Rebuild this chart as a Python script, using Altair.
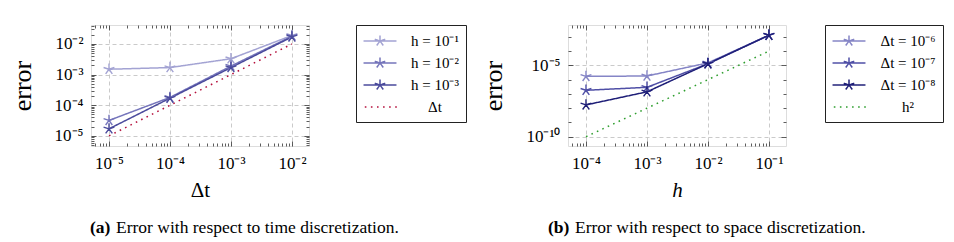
import math
import altair as alt
import pandas as pd

# ---------------- panel (a): error vs time step ----------------
dt_values = [1e-5, 1e-4, 1e-3, 1e-2]
err_h1 = [1.5e-3, 1.7e-3, 3.3e-3, 1.9e-2]
err_h2 = [3.2e-5, 1.8e-4, 1.9e-3, 1.8e-2]
err_h3 = [1.7e-5, 1.7e-4, 1.7e-3, 1.7e-2]
ref_dt = [1e-5, 1e-4, 1e-3, 1e-2]
series_a = ["h = 10⁻¹", "h = 10⁻²", "h = 10⁻³", "Δt"]
xticks_a = [1e-5, 1e-4, 1e-3, 1e-2]
xlabels_a = ["10⁻⁵", "10⁻⁴", "10⁻³", "10⁻²"]
yticks_a = [1e-5, 1e-4, 1e-3, 1e-2]
ylabels_a = ["10⁻⁵", "10⁻⁴", "10⁻³", "10⁻²"]
colors_a = ["#a3a3d3", "#7575bb", "#4a4a9c", "#b5103c"]

# ---------------- panel (b): error vs mesh size ----------------
h_values = [1e-4, 1e-3, 1e-2, 1e-1]
err_dt6 = [1.7e-6, 1.8e-6, 1.5e-5, 1.3e-3]
err_dt7 = [1.8e-7, 2.9e-7, 1.3e-5, 1.3e-3]
err_dt8 = [1.7e-8, 1.4e-7, 1.3e-5, 1.3e-3]
ref_h2 = [1e-10, 1e-8, 1e-6, 1e-4]
series_b = ["Δt = 10⁻⁶", "Δt = 10⁻⁷", "Δt = 10⁻⁸", "h²"]
xticks_b = [1e-4, 1e-3, 1e-2, 1e-1]
xlabels_b = ["10⁻⁴", "10⁻³", "10⁻²", "10⁻¹"]
yticks_b = [1e-10, 1e-5]
ylabels_b = ["10⁻¹⁰", "10⁻⁵"]
colors_b = ["#8585c6", "#4f4fa6", "#1f1f78", "#2e9e2e"]

caption_tags = ["(a)", "(b)"]
caption_texts = ["Error with respect to time discretization.",
                 "Error with respect to space discretization."]

FONT = "Liberation Serif"
W, H = 218, 121


def star_path(r, tail=0.0):
    p = ""
    if tail:
        p += f"M{-tail},0L{tail},0"
    for a in (90, 162, 234, 306, 18):
        c, s = math.cos(math.radians(a)), math.sin(math.radians(a))
        p += f"M0,0L{r * c:.3f},{-r * s:.3f}"
    return p


def dotted_path(n=6, start=-1.9, step=0.76, dot=0.2):
    return "".join(f"M{start + i * step:.3f},0L{start + i * step + dot:.3f},0" for i in range(n))


STAR = star_path(1.0)
LEG_STAR = star_path(0.69, 2.06)
LEG_DOT = dotted_path()


def label_expr(ticks, labels):
    expr = "''"
    for v, lab in reversed(list(zip(ticks, labels))):
        expr = f"abs(log(datum.value) - log({v!r})) < 0.01 ? '{lab}' : ({expr})"
    return expr


def minor_ticks(lo, hi, per_decade=True):
    out = []
    for d in range(math.floor(math.log10(lo)) - 1, math.ceil(math.log10(hi)) + 1):
        ks = range(1, 10) if per_decade else [1]
        for k in ks:
            v = k * 10.0 ** d
            if lo <= v <= hi:
                out.append(v)
    return out


def panel(xs_vals, ys_lists, names, colors, xdom, ydom, xt, xl, yt, yl,
          y_minor_all, xtitle, xtitle_italic, tag, text, cap_x, text_x,
          leg_offset, leg_label_offset):
    rows = []
    for name, ys in zip(names, ys_lists):
        for xv, yv in zip(xs_vals, ys):
            rows.append({"x": xv, "err": yv, "series": name})
    df = pd.DataFrame(rows)

    xs = alt.Scale(type="log", domain=xdom, nice=False)
    ys = alt.Scale(type="log", domain=ydom, nice=False)
    cscale = alt.Scale(domain=names, range=colors)

    x_inner = minor_ticks(*xdom)
    y_inner = minor_ticks(*ydom, per_decade=y_minor_all)
    xmaj = f"indexof({[float(v) for v in xt]}, datum.value) >= 0"
    ymaj = f"indexof({[float(v) for v in yt]}, datum.value) >= 0"

    def tick_axis(orient, offset, values, major_test):
        return alt.Axis(orient=orient, offset=offset, values=values, labels=False,
                        domain=False, grid=False, ticks=True, title=None,
                        tickColor="#333333", tickWidth=0.8,
                        tickSize={"condition": {"test": major_test, "value": 5}, "value": 3})

    base = alt.Chart(df)

    legend = alt.Legend(
        title=None, orient="right", offset=leg_offset, strokeColor="#222222",
        padding=7, symbolSize=256, symbolStrokeWidth=1.5, symbolOffset=8,
        labelOffset=leg_label_offset, labelAlign="center", labelFont=FONT,
        labelFontSize=15, labelColor="black", rowPadding=5)
    legend_layer = base.transform_filter("false").mark_point(
        filled=False, strokeWidth=1.5, opacity=1).encode(
        x=alt.X("x:Q", scale=xs, axis=tick_axis("bottom", -H, x_inner, xmaj)),
        y=alt.Y("err:Q", scale=ys, axis=tick_axis("left", -W, y_inner, ymaj)),
        color=alt.Color("series:N", scale=cscale, legend=legend),
        shape=alt.Shape("series:N", scale=alt.Scale(
            domain=names, range=[LEG_STAR, LEG_STAR, LEG_STAR, LEG_DOT]), legend=legend),
    )

    lines = base.mark_line(strokeWidth=1.5, strokeCap="butt").encode(
        x=alt.X("x:Q", scale=xs, axis=alt.Axis(
            orient="bottom", values=xt, labelExpr=label_expr(xt, xl), grid=True,
            gridDash=[4, 3], gridColor="#bdbdbd", gridWidth=0.8, ticks=False, domain=False,
            labelFont=FONT, labelFontSize=17, labelColor="black", labelPadding=9,
            title=xtitle, titleFont=FONT, titleFontSize=21, titleFontWeight="normal",
            titleFontStyle="italic" if xtitle_italic else "normal",
            titleColor="black", titlePadding=8)),
        y=alt.Y("err:Q", scale=ys, axis=alt.Axis(
            orient="left", values=yt, labelExpr=label_expr(yt, yl), grid=True,
            gridDash=[4, 3], gridColor="#bdbdbd", gridWidth=0.8, ticks=False, domain=False,
            labelFont=FONT, labelFontSize=17, labelColor="black", labelPadding=8,
            title="error", titleFont=FONT, titleFontSize=26, titleFontWeight="normal",
            titleColor="black", titlePadding=19)),
        color=alt.Color("series:N", scale=cscale),
        strokeDash=alt.StrokeDash("series:N", scale=alt.Scale(
            domain=names, range=[[1, 0], [1, 0], [1, 0], [1.6, 4.4]]), legend=None),
    )

    points = base.transform_filter(
        alt.FieldOneOfPredicate(field="series", oneOf=names[:3])
    ).mark_point(shape=STAR, size=130, filled=False, strokeWidth=1.4, opacity=1).encode(
        x=alt.X("x:Q", scale=xs, axis=tick_axis("top", -H, x_inner, xmaj)),
        y=alt.Y("err:Q", scale=ys, axis=tick_axis("right", -W, y_inner, ymaj)),
        color=alt.Color("series:N", scale=cscale),
    )

    cap_tag = alt.Chart(pd.DataFrame({"t": [tag]})).mark_text(
        align="left", baseline="alphabetic", font=FONT, fontSize=17.5,
        fontWeight="bold", color="black").encode(
        text="t:N", x=alt.value(cap_x), y=alt.value(208))
    cap_txt = alt.Chart(pd.DataFrame({"t": [text]})).mark_text(
        align="left", baseline="alphabetic", font=FONT, fontSize=17.5,
        color="black").encode(
        text="t:N", x=alt.value(text_x), y=alt.value(208))

    return alt.layer(legend_layer, lines, points, cap_tag, cap_txt).resolve_axis(
        x="independent", y="independent").properties(width=W, height=H)


left = panel(dt_values, [err_h1, err_h2, err_h3, ref_dt], series_a, colors_a,
             [10 ** -5.295, 10 ** -1.72], [10 ** -5.33, 10 ** -1.38],
             xticks_a, xlabels_a, yticks_a, ylabels_a, True,
             "Δt", False, caption_tags[0], caption_texts[0], -1, 25, 46, 46)
right = panel(h_values, [err_dt6, err_dt7, err_dt8, ref_h2], series_b, colors_b,
              [10 ** -4.295, 10 ** -0.72], [10 ** -10.65, 10 ** -2.17],
              xticks_b, xlabels_b, yticks_b, ylabels_b, False,
              "h", True, caption_tags[1], caption_texts[1], -20, 7, 38, 50)

chart = alt.hconcat(left, right, spacing=13).resolve_scale(
    color="independent", shape="independent", strokeDash="independent"
).resolve_legend(color="independent", shape="independent").properties(
    padding={"left": 0, "top": 16, "right": 0, "bottom": 0}
).configure_view(stroke="#333333", strokeWidth=1).configure(background="white")

chart.save("out.html", embed_options={"renderer": "svg", "actions": False})
